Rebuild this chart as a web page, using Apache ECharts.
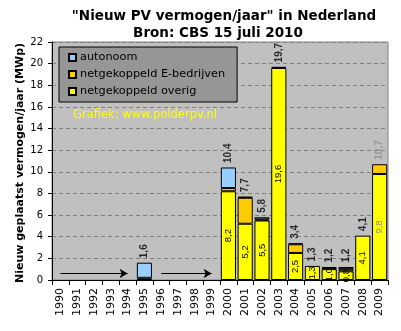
<!DOCTYPE html>
<html>
<head>
<meta charset="utf-8">
<script src="https://cdn.jsdelivr.net/npm/echarts@6/dist/echarts.min.js"></script>
<style>
  html, body { margin: 0; padding: 0; background: #fff; }
  #chart { width: 401px; height: 331px; }
</style>
</head>
<body>
<div id="chart"></div>
<script>
// Jaren op de x-as
const years = ['1990','1991','1992','1993','1994','1995','1996','1997','1998','1999',
               '2000','2001','2002','2003','2004','2005','2006','2007','2008','2009'];
// Nieuw geplaatst vermogen per jaar (MWp), per segment
const overig     = [0,0,0,0,0,0.2,0,0,0,0, 8.2,5.2,5.5,19.6,2.5,1.3,1.0,0.8,4.1,9.8];
const eBedrijven = [0,0,0,0,0,0,  0,0,0,0, 0.3,2.4,0.1,0.1, 0.8,0,  0.1,0.2,0,  0.9];
const autonoom   = [0,0,0,0,0,1.4,0,0,0,0, 1.9,0.1,0.2,0,   0.1,0,  0.1,0.2,0,  0];
// Pijlen over de jaren zonder gegevens
const arrowSpans = [['1990','1994'], ['1996','1999']];
const arrowLevel = 0.6;
// Voorlopig jaar (grijze labels)
const provisionalYear = '2009';

const fmt = v => v.toFixed(1).replace('.', ',');
const totals = years.map((y, i) => +(overig[i] + eBedrijven[i] + autonoom[i]).toFixed(1));
const nz = arr => arr.map(v => (v === 0 ? '-' : v));
const greyLabel = '#8c8c8c';

const chart = echarts.init(document.getElementById('chart'), null, { renderer: 'canvas' });

const overigData = overig.map((v, i) => {
  if (v === 0) return '-';
  const item = { value: v };
  if (years[i] === provisionalYear) item.label = { color: greyLabel };
  return item;
});

const totalData = totals.map((v, i) => {
  if (v === 0) return '-';
  const item = { value: v };
  if (years[i] === provisionalYear) item.label = { color: greyLabel };
  return item;
});

const barStyle = color => ({ color: color, borderColor: '#000', borderWidth: 1 });

chart.setOption({
  backgroundColor: '#ffffff',
  animation: false,
  title: [
    { text: '"Nieuw PV vermogen/jaar" in Nederland', left: 219, top: 4, textAlign: 'center',
      textStyle: { fontFamily: 'DejaVu Sans', fontSize: 13.5, fontWeight: 'bold', color: '#000' } },
    { text: 'Bron: CBS 15 juli 2010', left: 213, top: 21, textAlign: 'center',
      textStyle: { fontFamily: 'DejaVu Sans', fontSize: 13.5, fontWeight: 'bold', color: '#000' } }
  ],
  legend: {
    data: ['autonoom', 'netgekoppeld E-bedrijven', 'netgekoppeld overig'],
    orient: 'vertical',
    left: 59, top: 47,
    backgroundColor: '#969696',
    borderColor: '#000', borderWidth: 1, borderRadius: 0,
    padding: [5, 12, 5, 9],
    itemWidth: 7, itemHeight: 7, itemGap: 6,
    icon: 'rect',
    textStyle: { fontFamily: 'DejaVu Sans', fontSize: 11.3, color: '#000', padding: [0, 0, 0, -1] }
  },
  graphic: [
    { type: 'text', left: 73, top: 109,
      style: { text: 'Grafiek: www.polderpv.nl', fill: '#ffff00', font: '11.5px "DejaVu Sans"' } },
    // As-titel, verticaal
    { type: 'text', x: 20, y: 163, rotation: Math.PI / 2,
      style: { text: 'Nieuw geplaatst vermogen/jaar (MWp)', fill: '#000',
               font: 'bold 11px "DejaVu Sans"', align: 'center', verticalAlign: 'middle' } }
  ],
  grid: {
    left: 52, right: 13, top: 42, bottom: 51,
    show: true, backgroundColor: '#c0c0c0', borderColor: '#808080', borderWidth: 1
  },
  xAxis: {
    type: 'category',
    data: years,
    axisLine: { lineStyle: { color: '#000', width: 1 } },
    axisTick: { show: true, interval: 0, length: 5, lineStyle: { color: '#000' } },
    axisLabel: { interval: 0, rotate: 90, margin: 8, fontFamily: 'DejaVu Sans', fontSize: 11, color: '#000' }
  },
  yAxis: {
    type: 'value',
    min: 0, max: 22, interval: 2,
    axisLine: { show: true, lineStyle: { color: '#000', width: 1 } },
    axisTick: { show: true, length: 4, lineStyle: { color: '#000' } },
    axisLabel: { margin: 9, fontFamily: 'DejaVu Sans', fontSize: 10, color: '#000' },
    splitLine: { show: true, lineStyle: { color: '#808080', type: [4, 3], width: 1 } }
  },
  series: [
    {
      name: 'netgekoppeld overig', type: 'bar', stack: 'pv',
      barCategoryGap: '10%',
      itemStyle: barStyle('#ffff00'),
      data: overigData,
      label: {
        show: true, position: 'inside', rotate: 90, align: 'center', verticalAlign: 'middle',
        fontFamily: 'Liberation Sans', fontSize: 9.5, color: '#000',
        formatter: p => (p.value >= 0.5 ? fmt(p.value) : '')
      },
      markLine: {
        silent: true,
        symbol: ['none', 'arrow'],
        symbolSize: [7, 8],
        label: { show: false },
        lineStyle: { color: '#000', type: 'solid', width: 1 },
        data: arrowSpans.map(s => [{ coord: [s[0], arrowLevel] }, { coord: [s[1], arrowLevel] }])
      }
    },
    {
      name: 'netgekoppeld E-bedrijven', type: 'bar', stack: 'pv',
      itemStyle: barStyle('#ffcc00'),
      data: nz(eBedrijven)
    },
    {
      name: 'autonoom', type: 'bar', stack: 'pv',
      itemStyle: barStyle('#99ccff'),
      data: nz(autonoom)
    },
    {
      name: 'totaal', type: 'scatter',
      symbolSize: 1,
      itemStyle: { color: 'rgba(0,0,0,0)' },
      data: totalData,
      label: {
        show: true, position: 'top', distance: 4, rotate: 90, align: 'left', verticalAlign: 'middle',
        fontFamily: 'Liberation Sans', fontSize: 10, fontWeight: 'bold', color: '#000',
        formatter: p => fmt(p.value)
      },
      silent: true
    }
  ]
});
</script>
</body>
</html>
